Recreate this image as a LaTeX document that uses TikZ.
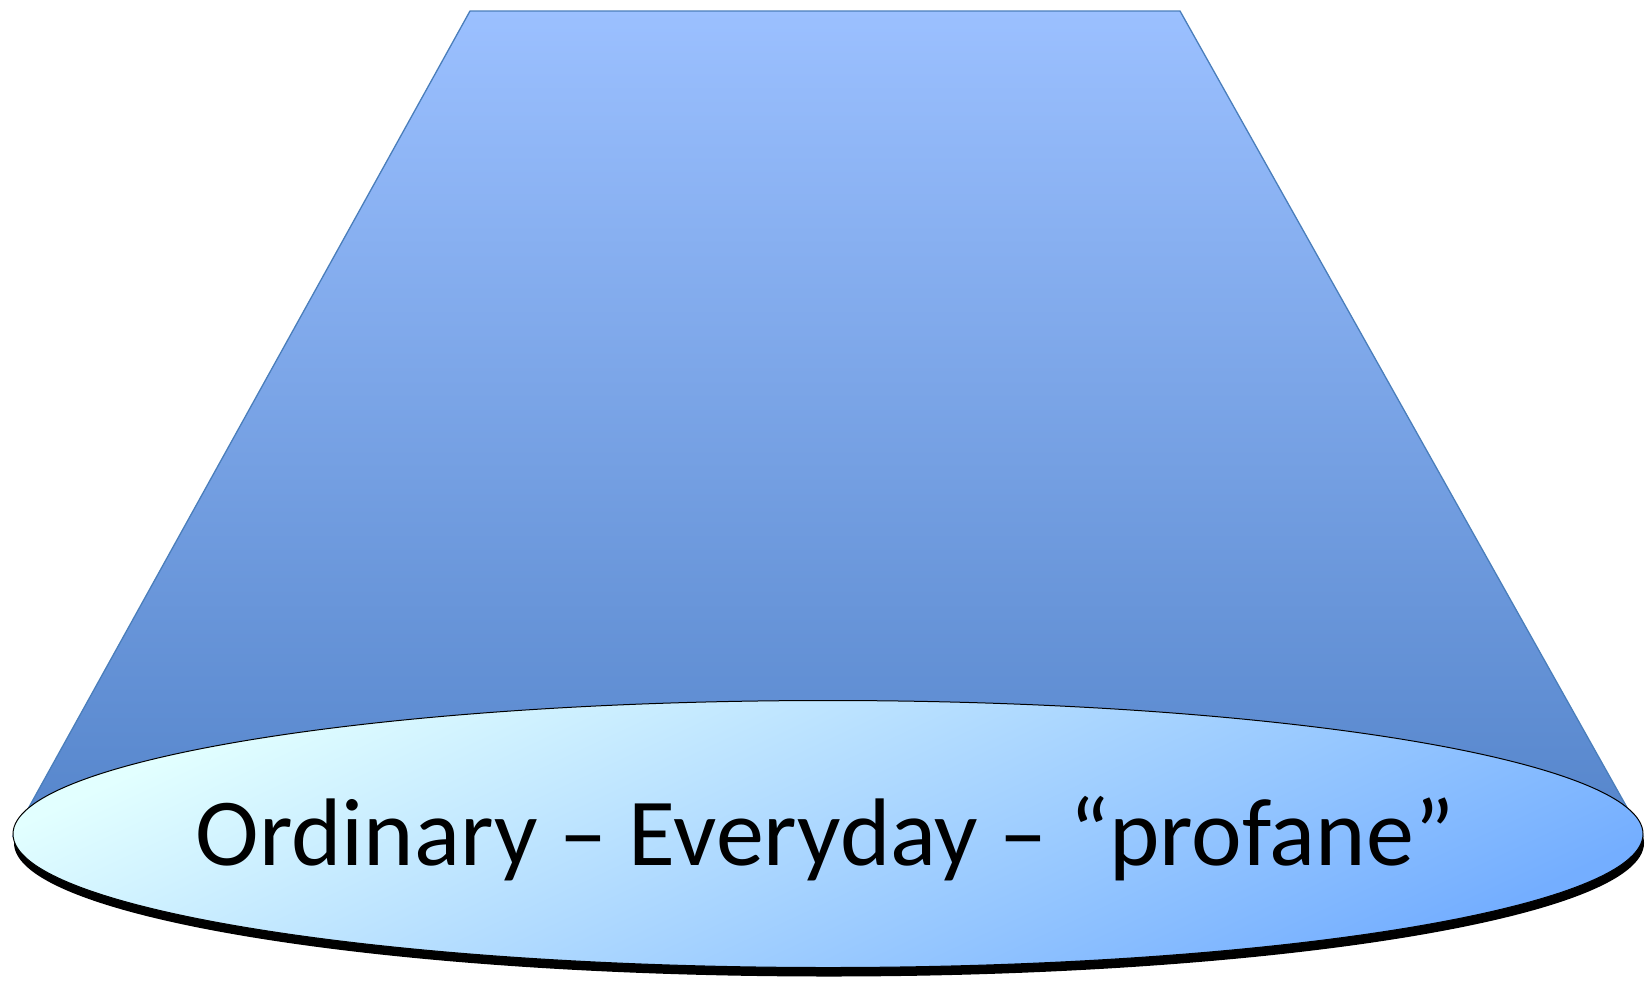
\documentclass[tikz,border=0pt]{standalone}
\usepackage{fontspec}
\setmainfont{Carlito}
\usetikzlibrary{shapes.geometric,shadows}
\definecolor{trapTop}{HTML}{9BC0FF}
\definecolor{trapBot}{HTML}{5585CB}
\definecolor{trapLine}{HTML}{4A7EBB}
\definecolor{ellLight}{HTML}{E2FFFF}
\definecolor{ellDark}{HTML}{74AEFF}
\tikzset{
  conebody/.style={draw=trapLine, line width=1.3pt, top color=trapTop, bottom color=trapBot, line join=miter},
  basedisc/.style={ellipse, draw=black, line width=1pt, inner sep=0pt,
    minimum width=1630pt, minimum height=267pt,
    top color=ellLight, bottom color=ellDark, shading angle=25,
    drop shadow={shadow xshift=1pt, shadow yshift=-9pt, fill=black, opacity=1},
    text=black},
  disclabel/.style={font=\fontsize{96}{110}\selectfont, inner sep=0pt, anchor=base, text=black}
}
\begin{document}
\begin{tikzpicture}[x=1pt,y=-1pt]
\useasboundingbox (0,0) rectangle (1645,988);
\coordinate (tl) at (470,11);
\coordinate (tr) at (1180,11);
\coordinate (bl) at (13,836);
\coordinate (br) at (1643,836);
\shade[conebody] (bl) -- (tl) -- (tr) -- (br) -- cycle;
\node[basedisc] (base) at (828,834) {};
\node[disclabel] (label) at (825,865) {Ordinary – Everyday – “profane”};
\end{tikzpicture}
\end{document}
